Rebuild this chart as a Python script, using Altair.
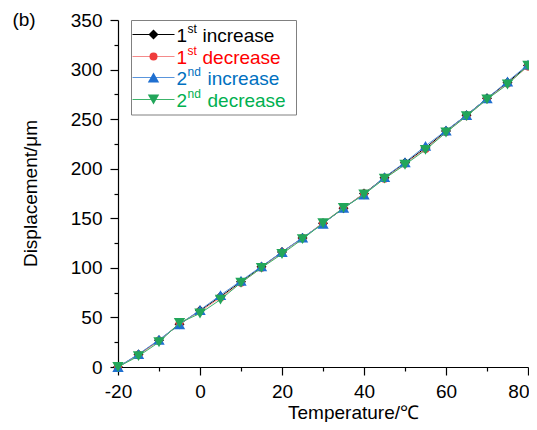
import altair as alt
import pandas as pd

# ---------------- data ----------------
temperature = [-20, -15, -10, -5, 0, 5, 10, 15, 20, 25, 30, 35, 40, 45, 50, 55, 60, 65, 70, 75, 80]
inc1 = [0, 12.5, 27, 43, 57, 71, 86, 101, 116, 130, 145, 160, 175, 191, 206, 221, 238, 254, 271, 287, 304]
dec1 = [0, 12, 26.5, 44, 56, 70, 85, 100, 115.5, 130, 145.5, 160.5, 175, 190, 205, 220, 237, 253, 270, 286, 303]
inc2 = [0, 13, 27.5, 43, 57.5, 72.5, 87, 101.5, 116, 130.5, 144.5, 160.5, 174, 191.5, 206.5, 223, 238.5, 254, 271, 288, 305]
dec2 = [0, 11, 25, 44.5, 54, 68, 85, 100, 114, 129, 145, 160.5, 174, 190, 204, 219, 236.5, 253, 270, 285, 304]

series_values = [inc1, dec1, inc2, dec2]
ordinals = ["1", "1", "2", "2"]
suffixes = ["st", "st", "nd", "nd"]
words = ["increase", "decrease", "increase", "decrease"]

# ---------------- styles ----------------
marker_colors = ["#000000", "#f03c3c", "#1f6fd0", "#22a65a"]
line_colors = ["#000000", "#f48a8a", "#5a95dc", "#3cb46a"]
text_colors = ["#000000", "#ff0000", "#0070c0", "#00b050"]
shapes = ["diamond", "circle", "triangle-up", "triangle-down"]
sizes = [100, 64, 130, 130]

FONT = "Liberation Sans"

xaxis = alt.Axis(
    values=list(range(-20, 81, 10)),
    labelExpr="datum.value % 20 == 0 ? toString(datum.value) : ''",
    tickSize={"condition": {"test": "datum.value % 20 == 0", "value": 8}, "value": 4},
    labelAlign={"condition": {"test": "datum.value == 80", "value": "right"}, "value": "center"},
    labelOffset={"condition": {"test": "datum.value == 80", "value": 1}, "value": 0},
    labelFlush=False, labelOverlap=False, grid=False,
    labelPadding=7, titleX=235, titleY=45, titleBaseline="middle",
)
yaxis = alt.Axis(
    values=list(range(0, 351, 25)),
    labelExpr="datum.value % 50 == 0 ? toString(datum.value) : ''",
    tickSize={"condition": {"test": "datum.value % 50 == 0", "value": 8}, "value": 4},
    labelFlush=False, labelOverlap=False, grid=False,
    labelPadding=8, titleX=-88, titleY=173, titleBaseline="middle", titleAlign="center",
)

xs = alt.Scale(domain=[-20, 80], nice=False, zero=False)
ys = alt.Scale(domain=[0, 350], nice=False, zero=False)

data_layers = []
for i in range(4):
    d = pd.DataFrame({"T": temperature, "D": series_values[i]})
    base = alt.Chart(d).encode(
        x=alt.X("T:Q", scale=xs, axis=xaxis, title="Temperature/℃"),
        y=alt.Y("D:Q", scale=ys, axis=yaxis, title="Displacement/μm"),
    )
    data_layers.append(base.mark_line(color=line_colors[i], strokeWidth=1))
    data_layers.append(base.mark_point(shape=shapes[i], filled=True, size=sizes[i],
                                       color=marker_colors[i], opacity=1))
main = alt.layer(*data_layers)

# ---------------- custom legend (pixel positions) ----------------
row_y = [14.5, 36.5, 57.5, 79.5]
word_x = [84.5, 84.5, 89.5, 89.5]
leg = pd.DataFrame({
    "y": row_y,
    "ysup": [v - 6 for v in row_y],
    "ytxt": [v + 7 for v in row_y],
    "num": ordinals,
    "sup": suffixes,
    "word": words,
    "wx": word_x,
})

PX = lambda f: alt.X(f, scale=None, axis=None)
PY = lambda f: alt.Y(f, scale=None, axis=None)

box = alt.Chart(pd.DataFrame({"a": [0]})).mark_rect(
    fill="white", stroke="#808080", strokeWidth=1
).encode(x=alt.value(13.5), x2=alt.value(178.5), y=alt.value(0.5), y2=alt.value(95))

leg_layers = [box]
for i in range(4):
    r = leg.iloc[[i]]
    leg_layers.append(alt.Chart(r).mark_rule(color=line_colors[i], strokeWidth=1).encode(
        x=alt.value(14.5), x2=alt.value(56.5), y=PY("y:Q")))
    leg_layers.append(alt.Chart(r).mark_point(shape=shapes[i], filled=True, size=sizes[i],
                                              color=marker_colors[i], opacity=1).encode(
        x=alt.value(35.5), y=PY("y:Q")))
    leg_layers.append(alt.Chart(r).mark_text(align="left", baseline="alphabetic", font=FONT,
                                             fontSize=19, color=text_colors[i]).encode(
        x=alt.value(58.5), y=PY("ytxt:Q"), text="num:N"))
    leg_layers.append(alt.Chart(r).mark_text(align="left", baseline="middle", font=FONT,
                                             fontSize=12, color=text_colors[i]).encode(
        x=alt.value(69.5), y=PY("ysup:Q"), text="sup:N"))
    leg_layers.append(alt.Chart(r).mark_text(align="left", baseline="alphabetic", font=FONT,
                                             fontSize=19, color=text_colors[i]).encode(
        x=PX("wx:Q"), y=PY("ytxt:Q"), text="word:N"))

panel_label = alt.Chart(pd.DataFrame({"t": ["(b)"]})).mark_text(
    align="center", baseline="middle", font=FONT, fontSize=19, color="black"
).encode(x=alt.value(-94), y=alt.value(-0.5), text="t:N")
leg_layers.append(panel_label)

legend = alt.layer(*leg_layers)

chart = alt.layer(main, legend).resolve_scale(x="independent", y="independent").properties(
    width=410, height=347,
    padding={"left": 110, "top": 12, "right": 1, "bottom": 55},
    autosize="none",
    background="white",
).configure_view(stroke=None).configure_axis(
    domainColor="black", domainWidth=1.2, tickColor="black", tickWidth=1.2,
    labelFont=FONT, labelFontSize=19, labelColor="black",
    titleFont=FONT, titleFontSize=19, titleColor="black", titleFontWeight="normal",
)

chart.save("out.html", embed_options={"renderer": "svg", "actions": False})
